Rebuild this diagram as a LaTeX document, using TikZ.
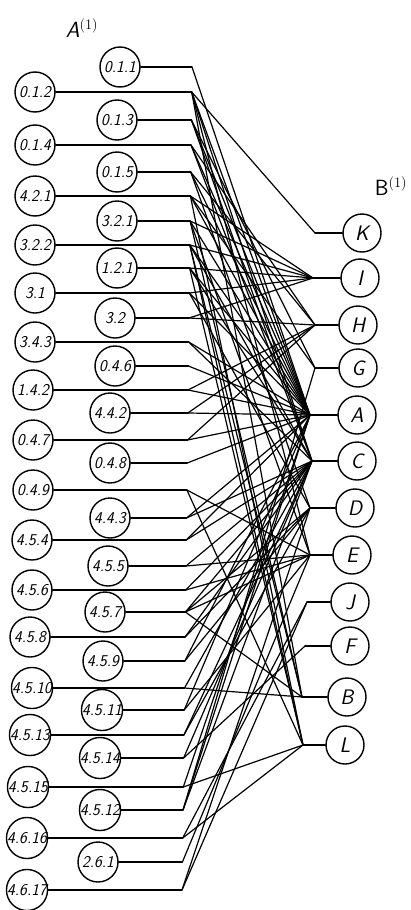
\documentclass[tikz,border=0pt]{standalone}
\begin{document}
\begin{tikzpicture}[x=1pt,y=-1pt,
  lnode/.style={circle,draw,line width=1.4pt,minimum size=40pt,inner sep=0pt,
    font=\fontsize{16.5}{16.5}\selectfont\sffamily\itshape},
  rnode/.style={circle,draw,line width=1.4pt,minimum size=38pt,inner sep=0pt,
    font=\fontsize{21}{21}\selectfont\sffamily\itshape},
  wire/.style={line width=1.2pt,line cap=round,line join=round},
  title/.style={font=\fontsize{22}{22}\selectfont\sffamily}]
\useasboundingbox (0,0) rectangle (410,910);
\node[title] (tA) at (82,28) {\textit{A}$^{(1)}$};
\node[title] (tB) at (391,186) {B$^{(1)}$};
% left nodes: name/label/x/y/junction x
\foreach \n/\lab/\x/\y/\jx in {
  O1/0.1.2/35/92/191.7, O2/0.1.4/35/145/191, O3/4.2.1/35/196/190.4,
  O4/3.2.2/35/245/189.8, O5/3.1/35/293/189.3, O6/3.4.3/35/342/188.7,
  O7/1.4.2/33/390/188.1, O8/0.4.7/33/440/187.5, O9/0.4.9/33/490/186.9,
  O10/4.5.4/32/540/186.3, O11/4.5.6/32/590/185.7, O12/4.5.8/30/637/185.1,
  O13/4.5.10/32/688/184.5, O14/4.5.13/30/735/183.9, O15/4.5.15/28/787/183.3,
  O16/4.6.16/27/838/182.7, O17/4.6.17/27/890/182,
  I1/0.1.1/120/67/192, I2/0.1.3/117/120/191.4, I3/0.1.5/117/172/190.7,
  I4/3.2.1/117/221/190.1, I5/1.2.1/117/268/189.6, I6/3.2/115/318/189,
  I7/0.4.6/115/366/188.4, I8/4.4.2/110/413/187.8, I9/0.4.8/110/463/187.2,
  I10/4.4.3/110/518/186.5, I11/4.5.5/108/566/186, I12/4.5.7/105/612/185.4,
  I13/4.5.9/103/661/184.8, I14/4.5.11/102/710/184.2, I15/4.5.14/100/758/183.6,
  I16/4.5.12/100/810/183, I17/2.6.1/98/862/182.4}{
  \node[lnode] (\n) at (\x,\y) {\lab};
  \coordinate (j\n) at (\jx,\y);
  \draw[wire] (\n.east) -- (j\n);
}
% right nodes: name/label/x/y/junction x
\foreach \n/\lab/\x/\y/\jx in {
  K/K/362/233/315, I/I/360/278/313, H/H/358/325/315, G/G/358/368/315,
  A/A/357/415/310, C/C/357/461/312, D/D/355/508/310, E/E/352/555/310,
  J/J/350/602/307, F/F/350/646/305, B/B/347/697/302, L/L/345/745/303}{
  \node[rnode] (R\n) at (\x,\y) {\lab};
  \coordinate (jR\n) at (\jx,\y);
  \draw[wire] (R\n.west) -- (jR\n);
}
% connections
\foreach \a/\b in {
  I1/A,
  O1/K, O1/A, O1/C, O1/E, O1/B,
  I2/A, I2/C, I2/G,
  O2/A, O2/C, O2/H,
  I3/A, I3/H, I3/D,
  O3/G, O3/A, O3/L, O3/I,
  I4/A, I4/E, I4/B, I4/I,
  O4/I, O4/A, O4/C, O4/L, O4/B,
  I5/I, I5/A, I5/C, I5/L,
  O5/I, O5/A, O5/D,
  I6/I, I6/H,
  O6/A, O6/C,
  I7/A,
  O7/H, O7/A,
  I8/H, I8/A,
  O8/A, O8/H,
  I9/A,
  O9/L, O9/E,
  I10/C, I10/A,
  O10/C, O10/A,
  I11/C, I11/E,
  O11/C, O11/E,
  I12/C, I12/D, I12/E, I12/B,
  O12/C, O12/D,
  I13/A, I13/D,
  O13/B, O13/C,
  I14/A, I14/E,
  O14/C, O14/D,
  I15/F, I15/C,
  O15/L, O15/A,
  I16/A, I16/C, I16/G,
  O16/L, O16/J,
  I17/E,
  O17/J, O17/D}{
  \draw[wire] (j\a) -- (jR\b);
}
\end{tikzpicture}
\end{document}
